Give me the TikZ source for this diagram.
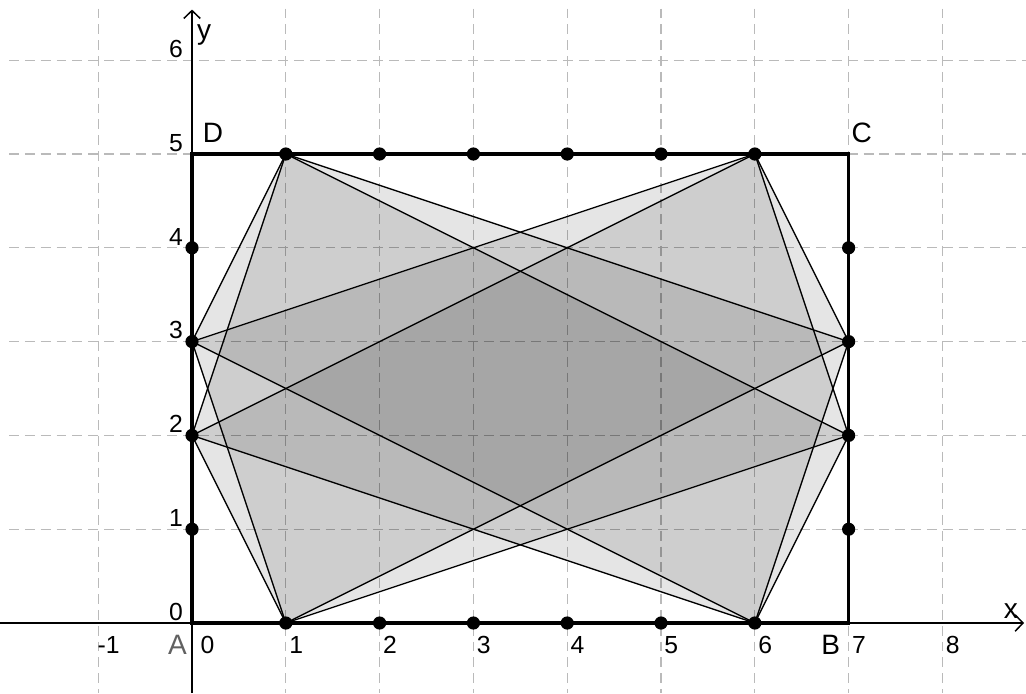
\documentclass[tikz,border=0pt]{standalone}
\usepackage{fontspec}
\setmainfont{Liberation Sans}
\usetikzlibrary{arrows.meta}
\begin{document}
\begin{tikzpicture}[x=1cm,y=1cm,
  gridline/.style={draw=black!27, line width=0.4pt, dash pattern=on 3pt off 1.8pt},
  quad/.style={fill=black, fill opacity=0.1, draw=black, draw opacity=1, line width=0.4pt},
  axisline/.style={draw=black, line width=0.45pt, -{Straight Barb[length=2.4pt,width=5pt]}},
  frame/.style={draw=black, line width=1pt},
  dot/.style={circle, fill=black, inner sep=0pt, minimum size=4pt},
  ticklbl/.style={font=\fontsize{7.5}{8}\selectfont, inner sep=0pt},
  ptlbl/.style={font=\fontsize{8.5}{9}\selectfont, inner sep=0pt}]
\useasboundingbox (-2.047,-0.746) rectangle (8.891,6.642);

% grid
\foreach \i in {-1,1,2,3,4,5,6,7,8} \draw[gridline] (\i,6.55) -- (\i,-0.746);
\foreach \j in {1,...,6} \draw[gridline] (-1.95,\j) -- (8.891,\j);

% corner coordinates
\coordinate (A) at (0,0);
\coordinate (B) at (7,0);
\coordinate (C) at (7,5);
\coordinate (D) at (0,5);
% vertices of the parallelograms
\coordinate (P1) at (1,0);
\coordinate (P6) at (6,0);
\coordinate (Q2) at (7,2);
\coordinate (Q3) at (7,3);
\coordinate (R1) at (1,5);
\coordinate (R6) at (6,5);
\coordinate (L2) at (0,2);
\coordinate (L3) at (0,3);

% parallelograms
\draw[quad] (P1) -- (Q2) -- (R6) -- (L3) -- cycle;
\draw[quad] (P6) -- (Q3) -- (R1) -- (L2) -- cycle;
\draw[quad] (P1) -- (Q3) -- (R6) -- (L2) -- cycle;
\draw[quad] (P6) -- (Q2) -- (R1) -- (L3) -- cycle;

% axes
\coordinate (xs) at (-2.047,0);
\coordinate (xe) at (8.87,0);
\coordinate (ys) at (0,-0.746);
\coordinate (ye) at (0,6.54);
\draw[axisline] (xs) -- (xe);
\draw[axisline] (ys) -- (ye);

% rectangle ABCD
\draw[frame] (A) -- (B) -- (C) -- (D) -- cycle;

% dots
\foreach \x in {1,...,6} {
  \node[dot] (b\x) at (\x,0) {};
  \node[dot] (t\x) at (\x,5) {};
}
\foreach \y in {1,...,4} {
  \node[dot] (l\y) at (0,\y) {};
  \node[dot] (r\y) at (7,\y) {};
}

% tick labels
\node[ticklbl] (xm1) at (-0.89,-0.235) {-1};
\node[ticklbl] (x0) at (0.165,-0.235) {0};
\foreach \i in {1,...,8} \node[ticklbl] (x\i) at (\i+0.11,-0.235) {\i};
\foreach \j in {0,...,6} \node[ticklbl, anchor=east] (y\j) at (-0.09,\j+0.12) {\j};

% axis names
\node[ptlbl] (xname) at (8.73,0.13) {x};
\node[ptlbl] (yname) at (0.13,6.27) {y};

% point labels
\node[ptlbl, text=black!62] (Alab) at (-0.155,-0.235) {A};
\node[ptlbl] (Blab) at (6.81,-0.235) {B};
\node[ptlbl] (Clab) at (7.14,5.23) {C};
\node[ptlbl] (Dlab) at (0.225,5.23) {D};
\end{tikzpicture}
\end{document}
